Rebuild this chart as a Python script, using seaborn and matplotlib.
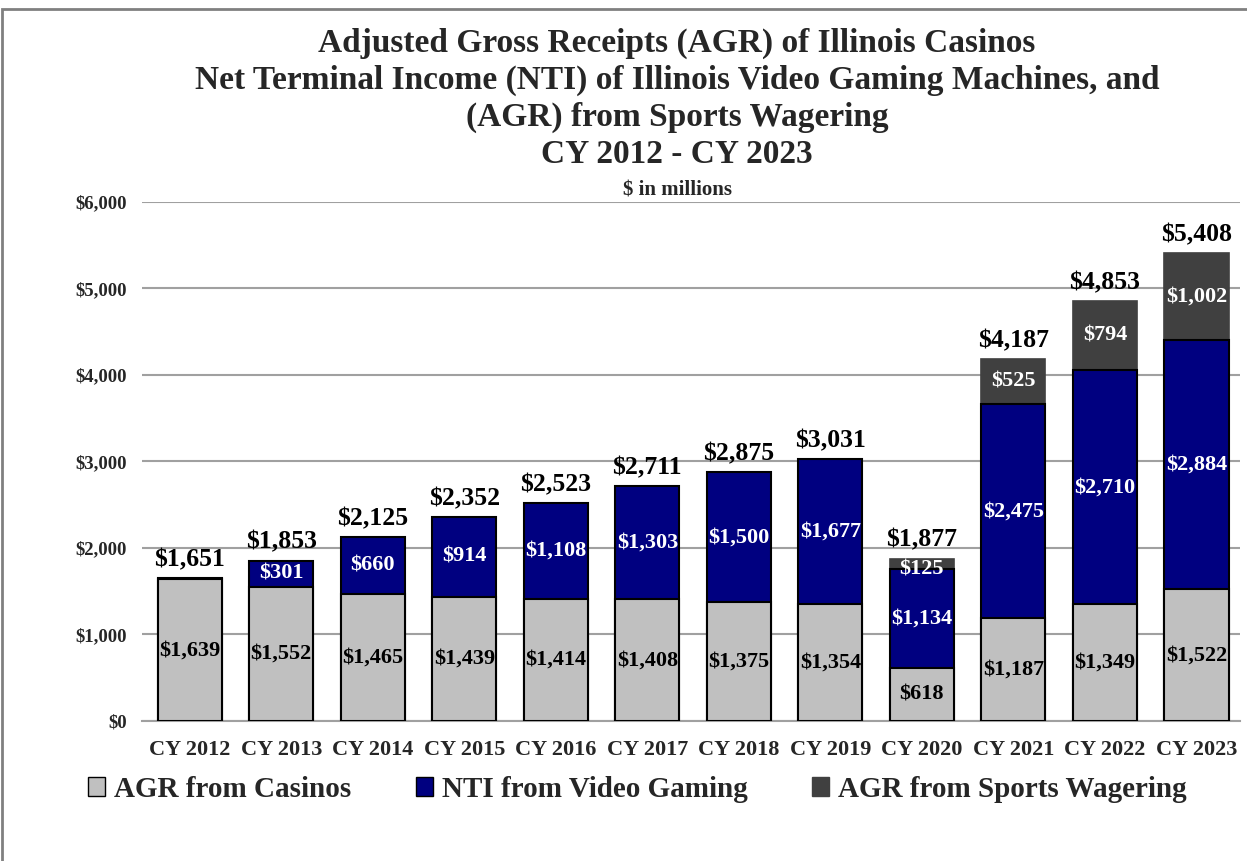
import numpy as np
import pandas as pd
import seaborn as sns
import matplotlib

matplotlib.use("Agg")
import matplotlib.pyplot as plt  # noqa: E402
from matplotlib.patches import Patch, Rectangle  # noqa: E402

# ---------------------------------------------------------------------------
# Data ($ in millions)
# ---------------------------------------------------------------------------
years = ["CY 2012", "CY 2013", "CY 2014", "CY 2015", "CY 2016", "CY 2017",
         "CY 2018", "CY 2019", "CY 2020", "CY 2021", "CY 2022", "CY 2023"]
casinos = [1639, 1552, 1465, 1439, 1414, 1408, 1375, 1354, 618, 1187, 1349, 1522]
video_gaming = [12, 301, 660, 914, 1108, 1303, 1500, 1677, 1134, 2475, 2710, 2884]
sports = [0, 0, 0, 0, 0, 0, 0, 0, 125, 525, 794, 1002]
totals = [1651, 1853, 2125, 2352, 2523, 2711, 2875, 3031, 1877, 4187, 4853, 5408]

C_CAS = "#C0C0C0"
C_NTI = "#000080"
C_SPO = "#404040"

df = pd.DataFrame({"year": years, "casinos": casinos,
                   "nti": video_gaming, "sports": sports, "total": totals})
df["cas_nti"] = df["casinos"] + df["nti"]

sns.set_style("white")
plt.rcParams["font.family"] = ["Liberation Serif", "DejaVu Serif"]
plt.rcParams["font.weight"] = "bold"

fig = plt.figure(figsize=(12.47, 8.61), dpi=100)
ax = fig.add_axes([0.114, 0.1626, 0.88, 0.6028])

# stacked bars drawn as overlapping cumulative bars
sns.barplot(data=df, x="year", y="total", color=C_SPO, edgecolor=C_SPO,
            linewidth=1.2, width=0.7, saturation=1, ax=ax, zorder=2)
sns.barplot(data=df, x="year", y="cas_nti", color=C_NTI, edgecolor="black",
            linewidth=1.5, width=0.7, saturation=1, ax=ax, zorder=3)
sns.barplot(data=df, x="year", y="casinos", color=C_CAS, edgecolor="black",
            linewidth=1.5, width=0.7, saturation=1, ax=ax, zorder=4)

# labels
for i, row in df.iterrows():
    ax.text(i, row["casinos"] / 2, f"${row['casinos']:,}", ha="center",
            va="center", fontsize=16, fontweight="bold", color="black", zorder=6)
    if row["nti"] > 100:
        ax.text(i, row["casinos"] + row["nti"] / 2, f"${row['nti']:,}",
                ha="center", va="center", fontsize=16, fontweight="bold",
                color="white", zorder=6)
    if row["sports"] > 0:
        y = row["cas_nti"] + row["sports"] / 2
        if row["sports"] < 200:
            y = row["cas_nti"]
        ax.text(i, y, f"${row['sports']:,}",
                ha="center", va="center", fontsize=16, fontweight="bold",
                color="white", zorder=6)
    ax.annotate(f"${row['total']:,}", (i, row["total"]), xytext=(0, 5),
                textcoords="offset points", ha="center", va="bottom",
                fontsize=18.5, fontweight="bold", color="black", zorder=6,
                annotation_clip=False)

ax.set_ylim(0, 6000)
ax.set_xlim(-0.52, 11.47)
ax.set_yticks(np.arange(0, 6001, 1000))
ax.set_yticklabels([f"${v:,.0f}" for v in np.arange(0, 6001, 1000)],
                   fontsize=13.5, fontweight="bold")
ax.tick_params(axis="y", length=0, pad=11)
ax.tick_params(axis="x", length=0, pad=14, labelsize=16)
for lab in ax.get_xticklabels():
    lab.set_fontweight("bold")
ax.set_xlabel("")
ax.set_ylabel("")
ax.yaxis.grid(True, color="#A0A0A0", linewidth=1.5, zorder=0)
ax.set_axisbelow(True)
for s in ["top", "right", "left"]:
    ax.spines[s].set_visible(False)
ax.spines["bottom"].set_color("#A0A0A0")
ax.spines["bottom"].set_linewidth(1.5)

# titles
fig.text(0.543, 0.968, "Adjusted Gross Receipts (AGR) of Illinois Casinos\n"
         "Net Terminal Income (NTI) of Illinois Video Gaming Machines, and\n"
         "(AGR) from Sports Wagering\nCY 2012 - CY 2023",
         ha="center", va="top", fontsize=24, fontweight="bold",
         linespacing=1.25)
fig.text(0.543, 0.779, "$ in millions", ha="center", va="center",
         fontsize=15, fontweight="bold")

handles = [Patch(facecolor=C_CAS, edgecolor="black", label="AGR from Casinos"),
           Patch(facecolor=C_NTI, edgecolor="black", label="NTI from Video Gaming"),
           Patch(facecolor=C_SPO, edgecolor=C_SPO, label="AGR from Sports Wagering")]
fig.legend(handles=handles, loc="center", bbox_to_anchor=(0.511, 0.083), ncol=3,
           frameon=False, prop={"size": 21, "weight": "bold"},
           handlelength=0.6, handleheight=0.6, handletextpad=0.3,
           columnspacing=2.2)

# outer frame
fig.patches.append(Rectangle((0.002, -0.01), 1.2, 1.0, transform=fig.transFigure,
                             fill=False, edgecolor="#808080", linewidth=2))

fig.savefig("out.png", dpi=100)
